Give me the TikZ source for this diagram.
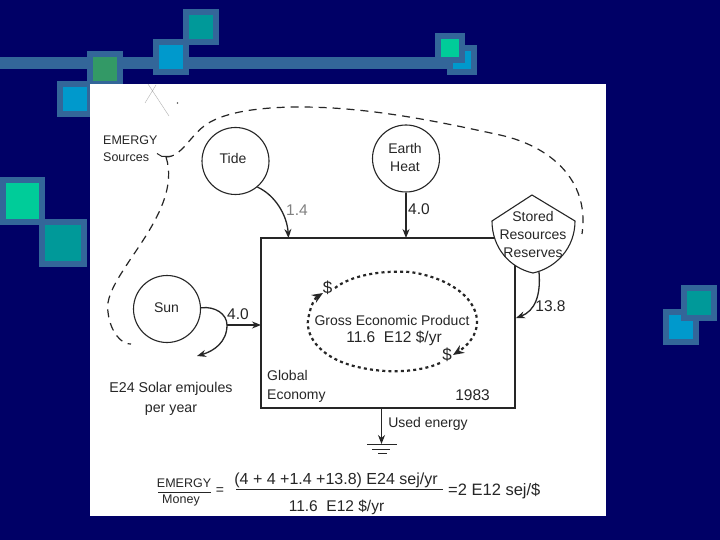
\documentclass[tikz,border=0pt]{standalone}
\usepackage{fontspec}
\setmainfont{Liberation Sans}
\usetikzlibrary{arrows.meta}
\definecolor{navy}{HTML}{000066}
\definecolor{frame}{HTML}{336699}
\definecolor{mint}{HTML}{00CC99}
\definecolor{teal2}{HTML}{009999}
\definecolor{sky}{HTML}{0099CC}
\definecolor{leaf}{HTML}{339966}
\definecolor{ink}{HTML}{262626}
\tikzset{
  tile/.style={fill=#1,draw=frame,line width=6pt},
  round box/.style={circle,draw=ink,line width=1.1pt,fill=white,minimum size=67pt,inner sep=0pt,align=center,text=ink,font=\fontsize{14}{18}\selectfont},
  lbl/.style={text=ink,inner sep=0pt,align=center,font=\fontsize{14}{18}\selectfont},
  big lbl/.style={lbl,font=\fontsize{15.5}{18}\selectfont},
  flow/.style={draw=ink,line width=1.3pt},
  tipped/.style={flow,-{Stealth[length=9pt,width=7pt]}},
  source line/.style={draw=ink,line width=1.2pt,dash pattern=on 8pt off 6pt},
  money/.style={draw=ink,line width=2.2pt,dash pattern=on 3pt off 3.2pt},
  money tip/.style={money,-{Stealth[length=11pt,width=9pt,sep=0pt]}},
}
\begin{document}
\begin{tikzpicture}[x=1pt,y=-1pt]
\useasboundingbox (0,0) rectangle (720,540);
\fill[navy] (0,0) rectangle (720,540);
% decoration
\fill[frame] (0,57) rectangle (450,69);
\draw[tile=leaf] (90,54) rectangle (120,84);
\draw[tile=sky] (60,84) rectangle (90,114);
\draw[tile=sky] (156,42) rectangle (186,72);
\draw[tile=teal2] (186,12) rectangle (216,42);
\draw[tile=mint] (3,180) rectangle (42,222);
\draw[tile=teal2] (42,222) rectangle (84,264);
\draw[tile=sky] (450,48) rectangle (474,72);
\draw[tile=mint] (438,36) rectangle (462,60);
\draw[tile=sky] (666,312) rectangle (696,342);
\draw[tile=teal2] (684,288) rectangle (714,318);
% page
\fill[white] (90,84) rectangle (606,516);
% scribble
\draw[gray!60,line width=.4pt] (148,84) -- (169,116) (156,85) -- (145,103);
\fill[gray!70!black] (177.5,103) circle (.8pt);
% source dashed curves
\coordinate (srcj) at (166,157);
\draw[source line] (srcj) .. controls (182,157) and (190,135) .. (207,124)
  .. controls (225,112) and (260,107) .. (300,107)
  .. controls (370,107) and (440,122) .. (500,135)
  .. controls (550,146) and (590,180) .. (582,234);
\draw[source line] (srcj) .. controls (175,185) and (160,215) .. (140,245)
  .. controls (120,275) and (105,295) .. (108,312)
  .. controls (110,332) and (122,345) .. (131,344);
\draw[ink,line width=1pt] (157,153.5) -- (162,156.5) -- (171,156.5);
% global economy box
\node[draw=ink,line width=1.1pt,fill=white,minimum width=254pt,minimum height=170pt,inner sep=0pt] (eco) at (388,323) {};
% nodes
\node[round box] (tide) at (235.5,161) {};
\node[lbl] (tidet) at (233,158) {Tide};
\node[round box] (earth) at (406,158.5) {};
\node[lbl] (eartht) at (405,157) {Earth\\Heat};
\node[round box] (sun) at (167,309) {};
\node[lbl] (sunt) at (166.5,308) {Sun};
\draw[draw=ink,line width=1.1pt,fill=white] (532,195) -- (575,221)
  .. controls (575,248) and (556,268) .. (533,273)
  .. controls (510,268) and (492,248) .. (492,221) -- cycle;
\node[lbl,inner sep=0pt] (stored) at (533,234) {Stored\\Resources\\Reserves};
\coordinate (storedbase) at (539,272);
% inflows
\coordinate (tidein) at (288.5,238);
\coordinate (earthin) at (406,238);
\coordinate (sunin) at (261,325);
\coordinate (split) at (227,325);
\coordinate (sunout) at (197,356);
\coordinate (storedin) at (516,318);
\coordinate (sink) at (381.5,444);
\draw[tipped] (tide.-50) .. controls (275,195) and (287,215) .. (tidein);
\draw[tipped] (earth.south) -- (earthin);
\draw[flow] (sun.2) .. controls (215,306) and (227,314) .. (split);
\draw[tipped] (split) -- (sunin);
\draw[tipped] (split) .. controls (227,342) and (214,351) .. (sunout);
\draw[tipped] (storedbase) .. controls (541,295) and (535,311) .. (storedin);
\draw[tipped] (eco.south -| sink) -- (sink);
\draw[ink,line width=1pt] (367,444) -- (397,444) (372,449) -- (390,449) (378,453) -- (387,453);
% money loop
\coordinate (d1) at (323,293);
\coordinate (d2) at (453,355);
\draw[money tip] (440,363) .. controls (420,372) and (385,375) .. (350,365)
  .. controls (320,356) and (303,335) .. (309,315)
  .. controls (311,305) and (315,298) .. (d1);
\draw[money tip] (335,288) .. controls (350,276) and (380,270) .. (410,272)
  .. controls (445,277) and (475,295) .. (477,320)
  .. controls (478,335) and (467,346) .. (d2);
% labels
\node[lbl,align=left,anchor=north west,font=\fontsize{12.5}{17}\selectfont] (srclbl) at (103,136) {EMERGY\\Sources};
\node[big lbl] (l14) at (297,210) {\textcolor{gray}{1.4}};
\node[big lbl] (l40a) at (419,209) {4.0};
\node[big lbl] (l40b) at (238,314) {4.0};
\node[big lbl] (l138) at (550.5,306) {13.8};
\node[lbl,font=\fontsize{17}{18}\selectfont] (dol1) at (327.5,288) {\$};
\node[lbl,font=\fontsize{17}{18}\selectfont] (dol2) at (447,355) {\$};
\node[lbl] (gep) at (392,320) {Gross Economic Product};
\node[big lbl] (val) at (394,338) {11.6\ \ E12 \$/yr};
\node[lbl,align=left,anchor=north west,font=\fontsize{14}{19}\selectfont] (glob) at (267,370) {Global\\Economy};
\node[big lbl] (yr) at (472.5,395) {1983};
\node[lbl,font=\fontsize{14.2}{20}\selectfont] (solar) at (171,399) {E24 Solar emjoules\\per year};
\node[lbl] (used) at (428,424) {Used energy};
% equation
\node[lbl,font=\fontsize{12.5}{14}\selectfont] (emg) at (184,483) {EMERGY};
\node[lbl,font=\fontsize{12.5}{14}\selectfont] (mon) at (181,500) {Money};
\draw[ink,line width=.9pt] (158,492.5) -- (211,492.5);
\node[lbl] (eq1) at (220,491) {=};
\node[big lbl,font=\fontsize{16}{18}\selectfont] (num) at (336,480) {(4 + 4 +1.4 +13.8) E24 sej/yr};
\node[big lbl] (den) at (336.5,507) {11.6\ \ E12 \$/yr};
\draw[ink,line width=.9pt] (236,489.5) -- (443,489.5);
\node[lbl,anchor=west,font=\fontsize{16.5}{18}\selectfont] (res) at (448,491) {=2 E12 sej/\$};
\end{tikzpicture}
\end{document}
